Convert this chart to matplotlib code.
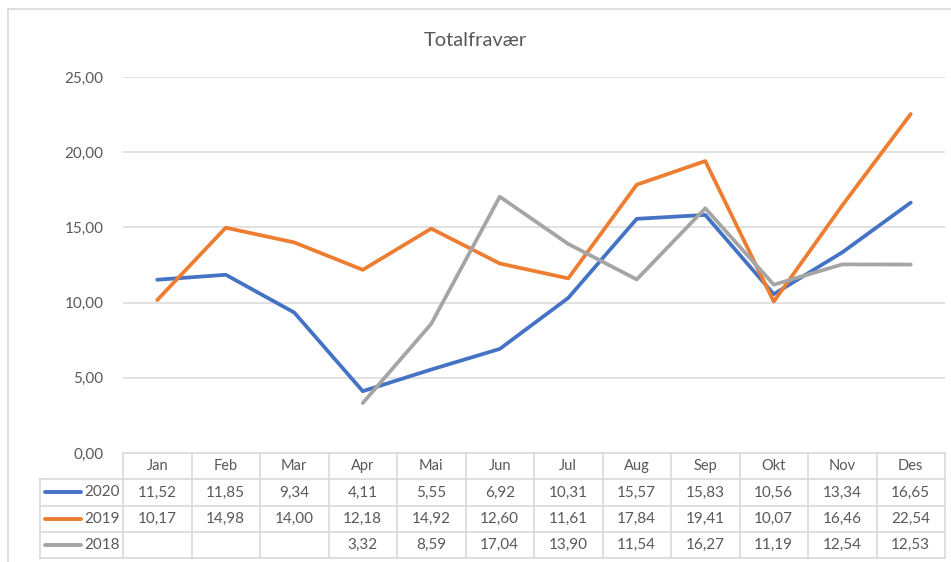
import numpy as np
import matplotlib
matplotlib.use("Agg")
import matplotlib.pyplot as plt
from matplotlib.lines import Line2D

plt.rcParams["font.family"] = ["Lato", "DejaVu Sans"]

months = ["Jan", "Feb", "Mar", "Apr", "Mai", "Jun", "Jul", "Aug", "Sep", "Okt", "Nov", "Des"]
series_names = ["2020", "2019", "2018"]
v2020 = [11.52, 11.85, 9.34, 4.11, 5.55, 6.92, 10.31, 15.57, 15.83, 10.56, 13.34, 16.65]
v2019 = [10.17, 14.98, 14.00, 12.18, 14.92, 12.60, 11.61, 17.84, 19.41, 10.07, 16.46, 22.54]
v2018 = [None, None, None, 3.32, 8.59, 17.04, 13.90, 11.54, 16.27, 11.19, 12.54, 12.53]
colors = ["#4472C4", "#ED7D31", "#A5A5A5"]
yticks = [0, 5, 10, 15, 20, 25]

W, H = 951, 562
fig = plt.figure(figsize=(W / 100, H / 100), dpi=100)

def fx(px):
    return px / W

def fy(py):
    return 1 - py / H

TXT = "#595959"
GRID = "#D9D9D9"

# chart area border (only left and top visible in the crop)
fig.add_artist(Line2D([fx(8), fx(8)], [fy(9), 0], color=GRID, lw=1.2))
fig.add_artist(Line2D([fx(8), 1], [fy(9), fy(9)], color=GRID, lw=1.2))

# plot area
left, right, top, bottom = 123, 945, 77, 453
ax = fig.add_axes([fx(left), fy(bottom), fx(right - left), fy(top) - fy(bottom)])
ax.set_xlim(-0.5, len(months) - 0.5)
ax.set_ylim(0, 25)
for s in ax.spines.values():
    s.set_visible(False)
ax.set_xticks([])
ax.set_yticks(yticks)
ax.set_yticklabels([f"{t:.2f}".replace(".", ",") for t in yticks], color=TXT, fontsize=11)
ax.tick_params(axis="y", length=0, pad=14)
for t in yticks[1:]:
    ax.axhline(t, color=GRID, lw=1.1, zorder=0)

x = np.arange(len(months))
for vals, c in zip([v2020, v2019, v2018], colors):
    y = np.array([np.nan if v is None else v for v in vals], dtype=float)
    ax.plot(x, y, color=c, lw=2.7, solid_capstyle="round", solid_joinstyle="round", zorder=3)

fig.text(0.5, fy(40), "Totalfravær", ha="center", va="center", color=TXT, fontsize=14.5)

# data table below the plot
row_h = 26.3
col_w = (right - left) / len(months)
tab_left = 40
n_rows = len(series_names) + 1
tab_bottom = bottom + row_h * n_rows

def hline(x0, x1, y):
    fig.add_artist(Line2D([fx(x0), fx(x1)], [fy(y), fy(y)], color=GRID, lw=1.2))

def vline(x, y0, y1):
    fig.add_artist(Line2D([fx(x), fx(x)], [fy(y0), fy(y1)], color=GRID, lw=1.2))

hline(left, right, bottom)
for r in range(1, n_rows + 1):
    hline(tab_left, right, bottom + r * row_h)
vline(tab_left, bottom + row_h, tab_bottom)
for c in range(len(months) + 1):
    vline(left + c * col_w, bottom, tab_bottom)

for i, m in enumerate(months):
    fig.text(fx(left + (i + 0.5) * col_w), fy(bottom + row_h / 2), m,
             ha="center", va="center", color=TXT, fontsize=10.5)

for r, (name, vals, c) in enumerate(zip(series_names, [v2020, v2019, v2018], colors)):
    yc = bottom + (r + 1.5) * row_h
    fig.add_artist(Line2D([fx(45), fx(81)], [fy(yc), fy(yc)], color=c, lw=2.8,
                          solid_capstyle="round"))
    fig.text(fx(left - 3), fy(yc), name, ha="right", va="center", color=TXT, fontsize=11)
    for i, v in enumerate(vals):
        if v is None:
            continue
        fig.text(fx(left + (i + 0.5) * col_w), fy(yc), f"{v:.2f}".replace(".", ","),
                 ha="center", va="center", color=TXT, fontsize=11)

fig.savefig("out.png", dpi=100)
